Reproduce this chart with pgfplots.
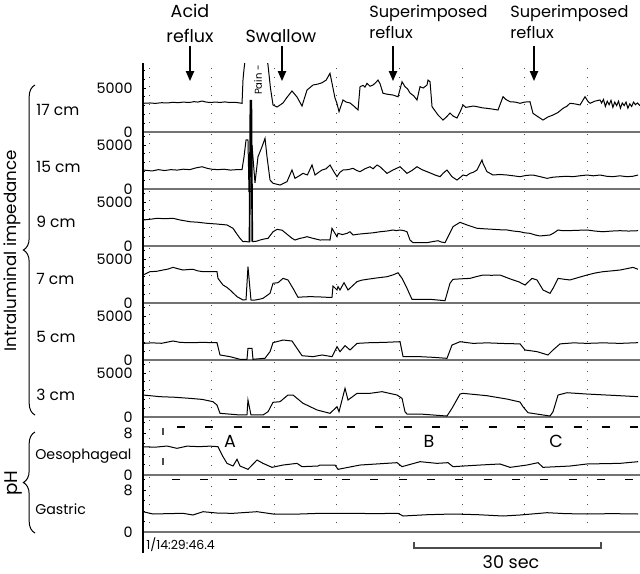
\documentclass[border=0pt]{standalone}
\usepackage{fontspec}
\setmainfont{Poppins}
\usepackage{pgfplots}
\pgfplotsset{compat=1.18}
\usetikzlibrary{arrows.meta,decorations.pathreplacing}

% one strip of the recording; x in seconds, dotted lines every 10 s
\pgfplotsset{
  panel/.style={
    scale only axis, width=298.2pt, anchor=south west,
    xmin=-0.96, xmax=78.43, ymin=0,
    axis x line*=bottom, axis y line*=left,
    x axis line style={draw=black!55, line width=1.2pt, -},
    y axis line style={draw=none},
    xtick={0,10,...,70}, xticklabels={}, xtick style={draw=none},
    xmajorgrids, grid style={black!70, line width=0.6pt, dash pattern=on 0.6pt off 4.8pt},
    ytick={0,5000}, yticklabels={0,5000}, minor ytick={1000,2000,3000,4000,6000,7000},
    tick align=inside, major tick length=2pt, minor tick length=1.4pt,
    ytick style={black, line width=0.5pt},
    yticklabel style={font=\fontsize{8.6}{9}\selectfont, anchor=east, inner sep=0pt, xshift=-6pt},
  },
  ph/.style={panel, ytick={0,8}, yticklabels={0,8}, minor ytick={2,4,6,10}},
  trace/.style={black, line width=0.6pt, mark=none},
}

\begin{document}
\begin{tikzpicture}
\useasboundingbox (0,0) rectangle (384pt,-343.8pt);

% 17 cm
\begin{axis}[panel, at={(85.8pt,-79.2pt)}, height=41.4pt, ymax=7840]
\addplot[trace] coordinates {(-0.96,3260)(0.2,3300)(1.0,3250)(2.0,3330)(3.0,3300)(3.8,3380)(4.6,3330)(5.5,3400)(6.4,3350)(7.2,3450)(7.8,3400)(8.5,3520)(9.0,3420)(9.7,3350)(10.6,3400)(11.4,3360)(12.1,3420)(12.9,3350)(13.7,3380)(14.5,3300)(14.86,3260)(15.02,6000)(15.2,7300)(15.5,9000)(18.69,9000)(19.01,7600)(19.4,5000)(19.81,3070)(20.45,2840)(21.0,3100)(21.41,3300)(22.0,3900)(22.84,4660)(23.64,3980)(24.44,2950)(25.24,4770)(26.20,5340)(27.0,5450)(27.64,5600)(28.3,5900)(28.91,6670)(29.23,5560)(29.5,4600)(29.71,3860)(30.0,3300)(30.35,2310)(30.99,3640)(31.5,3400)(32.11,3300)(32.8,2900)(33.39,2500)(33.71,5150)(34.2,5300)(34.5,5100)(34.82,5530)(35.3,5200)(35.78,5340)(36.2,5600)(36.58,5900)(36.9,5500)(37.38,4400)(38.0,4300)(38.98,4200)(39.78,4000)(40.42,5710)(40.89,5150)(41.3,4900)(41.69,4430)(42.3,4100)(42.81,3640)(43.29,5150)(43.8,5000)(44.41,5340)(44.57,5900)(44.89,5710)(45.21,2880)(46.17,1930)(46.96,1360)(47.5,1700)(48.08,2150)(48.6,1800)(49.20,1590)(49.7,2300)(50.16,3070)(50.6,2800)(51.28,2880)(51.8,2950)(52.40,2880)(53.2,2750)(53.99,2690)(54.9,2600)(55.75,2500)(56.55,4010)(57.0,3700)(57.67,3440)(58.5,3400)(59.27,3260)(60.0,3400)(60.86,3440)(61.34,2120)(62.0,1800)(62.94,1360)(63.7,1700)(64.54,1930)(65.3,2200)(66.13,2690)(66.7,2900)(67.25,3260)(68.0,3200)(68.85,3070)(69.65,4010)(70.1,3500)(70.45,3260)(71.2,3500)(72.04,3640)(72.3,3300)(72.6,3700)(72.9,2900)(73.2,3500)(73.5,3100)(73.8,3600)(74.1,2800)(74.4,3400)(74.7,3000)(75.0,3500)(75.3,2700)(75.6,3300)(75.9,3000)(76.2,3400)(76.5,2700)(76.8,3200)(77.1,2900)(77.4,3400)(77.7,3100)(78.0,3300)(78.43,3000)};
\end{axis}

% 15 cm
\begin{axis}[panel, at={(85.8pt,-113.4pt)}, height=34.2pt, ymax=6477, clip=false]
\addplot[trace] coordinates {(-0.96,2160)(0.5,2050)(1.5,2200)(2.5,2100)(3.5,2200)(4.5,2150)(5.5,2250)(6.5,2200)(7.5,2400)(8.47,2530)(9.3,2350)(10.0,2250)(11.0,2200)(12.0,2250)(13.0,2150)(14.0,2200)(14.86,2200)(15.18,3670)(15.50,5570)(15.81,5570)(15.97,-300)(16.29,-300)(16.45,5000)(16.93,700)(17.41,3670)(18.05,4800)(18.53,5760)(18.85,3670)(19.33,1020)(19.81,650)(20.93,450)(22.04,830)(22.84,2160)(23.32,1210)(24.0,1500)(24.60,1780)(25.3,1600)(26.04,2730)(26.52,1590)(27.1,1900)(27.64,2160)(28.3,2300)(28.91,2730)(29.5,2000)(30.03,1400)(30.5,1900)(30.99,2160)(31.8,2200)(32.59,2350)(33.2,2100)(33.71,1970)(34.5,2300)(35.30,2530)(35.8,2300)(36.42,2730)(36.90,2530)(38.02,1780)(38.98,2160)(40.10,2530)(40.6,2200)(41.21,1780)(42.0,2100)(42.81,2530)(43.6,2200)(44.41,1970)(45.0,1800)(45.69,1590)(46.49,1400)(47.0,1800)(47.60,2160)(48.40,1400)(49.20,1020)(49.7,1300)(50.16,1590)(50.7,1500)(51.28,1780)(51.8,1900)(52.40,2160)(53.19,3300)(53.35,2900)(53.99,1970)(54.95,1590)(56.0,1650)(57.19,1590)(58.2,1500)(59.27,1400)(60.3,1550)(61.34,1590)(62.5,1400)(63.58,1210)(64.6,1350)(65.65,1400)(66.7,1450)(67.73,1400)(68.8,1500)(69.97,1590)(71.0,1500)(72.04,1590)(73.1,1450)(74.12,1400)(75.2,1500)(76.36,1400)(77.3,1450)(78.12,1590)};
\end{axis}

% 9 cm
\begin{axis}[panel, at={(85.8pt,-147.6pt)}, height=34.2pt, ymax=6477, clip=false]
\addplot[trace] coordinates {(-0.96,2950)(0.3,3050)(1.28,3150)(2.5,3100)(3.83,3150)(5.0,2950)(6.55,2760)(7.8,2700)(9.27,2580)(10.8,2500)(12.46,2390)(13.42,2010)(14.0,1400)(14.54,870)(15.02,490)(15.34,520)(16.05,450)};
\addplot[black, line width=1pt] coordinates {(16.05,450)(16.2,16500)(16.35,16500)(16.5,490)};
\addplot[trace] coordinates {(16.5,490)(17.2,550)(17.73,680)(18.4,800)(19.01,870)(19.81,1620)(20.45,1890)(21.25,1800)(22.20,1250)(22.8,900)(23.32,680)(24.12,870)(24.7,950)(25.24,1060)(26.20,870)(27.32,680)(28.2,700)(28.91,680)(29.23,2010)(29.55,1620)(30.03,1060)(30.19,1440)(30.9,1300)(31.63,1440)(32.11,1620)(32.59,1250)(33.5,1350)(34.82,1440)(35.8,1500)(36.90,1620)(38.0,1700)(38.98,1820)(39.5,1750)(40.10,1820)(40.7,1750)(41.21,1620)(41.69,680)(42.17,380)(43.3,380)(44.41,380)(45.3,500)(46.17,600)(46.7,450)(47.28,380)(47.76,1060)(48.56,2200)(49.68,2690)(50.80,2390)(51.6,2200)(52.40,2010)(53.7,1950)(54.95,1900)(56.0,1850)(57.19,1820)(58.2,1700)(59.27,1620)(60.0,1500)(60.86,1440)(61.7,1250)(62.46,1140)(63.3,1200)(64.06,1250)(64.7,1500)(65.34,1820)(66.0,1750)(66.77,1740)(68.3,1780)(69.97,1820)(71.2,1700)(72.52,1620)(73.9,1700)(75.24,1740)(76.6,1700)(78.12,1740)};
\end{axis}

% 7 cm
\begin{axis}[panel, at={(85.8pt,-181.8pt)}, height=34.2pt, ymax=6477]
\addplot[trace] coordinates {(-0.96,3180)(0.16,3560)(1.2,3600)(2.24,3750)(3.0,3850)(3.83,4050)(4.6,3900)(5.43,3750)(6.2,3800)(7.03,3830)(7.8,3650)(8.63,3560)(9.7,3580)(10.86,3560)(11.02,2800)(11.82,2040)(12.4,1800)(12.94,1480)(13.5,1100)(14.06,720)(15.02,340)(15.50,380)(15.81,4120)(16.29,340)(16.93,340)(17.6,420)(18.21,530)(19.33,1100)(19.81,2240)(20.61,2310)(21.41,2800)(22.20,2620)(23.00,1670)(23.80,650)(24.8,700)(25.72,720)(27.0,700)(28.43,650)(29.23,650)(29.39,1930)(30.03,1480)(30.19,1860)(30.51,1480)(31.15,2310)(31.79,1480)(33.23,2430)(34.0,2600)(34.82,2690)(36.4,2850)(38.02,2990)(39.0,3200)(39.78,3440)(40.42,2800)(41.21,1670)(42.01,420)(43.5,420)(44.89,420)(46.0,350)(47.28,260)(48.08,2240)(48.56,2690)(49.9,2750)(51.28,2800)(52.3,3000)(53.35,3180)(54.7,3150)(56.07,3180)(57.1,2900)(58.15,2620)(59.1,2400)(60.06,2040)(61.18,2800)(61.98,2620)(62.94,1480)(64.06,1100)(64.54,1670)(65.34,2800)(66.3,2700)(67.25,2620)(68.6,2900)(69.97,3180)(71.2,3400)(72.52,3560)(73.9,3650)(75.24,3750)(76.3,3900)(77.32,4050)(78.12,3830)};
\end{axis}

% 5 cm
\begin{axis}[panel, at={(85.8pt,-216pt)}, height=34.2pt, ymax=6477]
\addplot[trace] coordinates {(-0.96,1890)(0.5,1950)(2.0,1900)(3.83,2160)(5.0,2000)(6.55,1970)(8.5,2000)(10.86,1970)(11.34,570)(12.94,380)(14.54,80)(15.65,80)(15.81,1330)(16.45,1330)(16.61,80)(18.53,200)(19.33,950)(19.81,1970)(21.41,2270)(22.84,2160)(23.64,1330)(24.44,490)(26.20,380)(27.64,570)(29.23,380)(30.03,1520)(30.51,950)(31.31,1630)(32.11,1140)(33.23,1890)(35.30,1970)(37.5,2000)(40.10,2080)(40.58,380)(43.29,380)(45.5,300)(47.60,190)(48.40,1700)(49.68,2080)(51.76,1890)(54.0,1950)(56.5,1880)(59.27,1830)(60.06,1140)(61.98,950)(63.74,570)(64.54,1140)(65.65,1830)(67.8,1950)(69.97,1890)(72.5,1950)(75.24,1890)(78.12,1970)};
\end{axis}

% 3 cm
\begin{axis}[panel, at={(85.8pt,-250.2pt)}, height=34.2pt, ymax=6477]
\addplot[trace] coordinates {(-0.96,2500)(1.76,2310)(4.0,2250)(6.55,2120)(8.5,2000)(10.22,1740)(10.86,1360)(11.34,420)(14.54,230)(15.65,230)(15.81,1930)(16.29,230)(18.21,230)(19.01,600)(19.81,1670)(20.93,1740)(22.20,2500)(23.00,2500)(24.60,1560)(26.84,800)(28.91,420)(30.03,1170)(30.35,600)(31.31,3260)(31.79,1930)(33.23,2690)(35.30,2690)(37.22,2880)(39.62,2500)(40.42,2120)(40.89,600)(41.21,340)(43.29,340)(47.60,110)(48.40,990)(49.68,2610)(50.16,2690)(53.99,2420)(57.19,2040)(59.27,1700)(59.74,1170)(60.54,490)(64.06,110)(64.54,600)(65.34,2500)(66.77,2760)(69.97,2610)(75.24,2420)(78.12,2310)};
\end{axis}

% pH oesophageal
\begin{axis}[ph, at={(85.8pt,-285pt)}, height=34.8pt, ymax=11.05]
\addplot[trace] coordinates {(-0.96,5.39)(1.0,5.3)(2.88,5.52)(4.47,5.08)(6.07,5.5)(8.0,5.4)(9.74,5.5)(11.02,5.4)(11.82,3.49)(12.46,2.22)(13.42,1.71)(14.06,2.99)(14.54,1.71)(15.81,1.08)(17.25,2.86)(18.21,2.22)(19.65,1.46)(21.41,1.9)(23.64,2.22)(24.44,1.59)(27.0,1.71)(27.32,1.9)(29.71,1.9)(30.19,1.08)(33.71,1.9)(39.62,2.35)(40.42,1.59)(43.29,2.54)(46.01,2.22)(47.76,2.35)(48.56,1.59)(52.88,1.9)(56.07,2.1)(57.67,1.46)(60.38,1.9)(62.14,2.35)(62.94,1.46)(67.25,1.71)(69.97,2.1)(75.24,2.22)(78.12,2.54)};
\addplot[black, line width=1pt, dash pattern=on 4.8pt off 12.2pt] coordinates {(4.47,9.14)(78.43,9.14)};
\addplot[black!70, line width=0.8pt] coordinates {(2.24,8.9)(2.24,7.7)};
\addplot[black!70, line width=0.8pt] coordinates {(2.24,3.3)(2.24,2.0)};
\end{axis}

% pH gastric
\begin{axis}[ph, at={(85.8pt,-319.2pt)}, height=34.2pt, ymax=10.86]
\addplot[trace] coordinates {(-0.96,3.87)(0.64,3.43)(3.0,3.5)(5.43,3.56)(7.03,3.24)(8.63,3.87)(11.0,3.6)(13.42,3.56)(17.25,3.87)(19.81,3.43)(24.12,3.43)(27.32,3.56)(32.59,3.56)(36.0,3.5)(39.78,3.56)(40.58,3.05)(44.5,3.3)(48.56,3.43)(52.5,3.3)(56.55,3.05)(59.27,3.24)(63.58,3.68)(66.5,3.5)(69.97,3.43)(74.0,3.5)(78.12,3.43)};
\addplot[black, line width=1pt, dash pattern=on 4.8pt off 12.2pt] coordinates {(3.67,10.0)(78.43,10.0)};
\end{axis}

\begin{scope}[x=0.6pt,y=0.6pt]
\draw[line width=1.6pt] (143,-63)--(143,-553);
% top annotations
\begin{scope}[font=\fontsize{10.5}{12}\selectfont]
\node[anchor=base] at (190,-17) {Acid};
\node[anchor=base] at (190,-42) {reflux};
\node[anchor=base] at (281,-42) {Swallow};
\end{scope}
\begin{scope}[font=\fontsize{9.7}{12}\selectfont]
\node[anchor=base west, inner sep=0pt] at (369,-17) {Superimposed};
\node[anchor=base west, inner sep=0pt] at (369,-38) {reflux};
\node[anchor=base west, inner sep=0pt] at (510,-17) {Superimposed};
\node[anchor=base west, inner sep=0pt] at (510,-38) {reflux};
\end{scope}
\foreach \xa in {190,282,393,534}
  \draw[line width=0.8pt,-{Triangle[length=6pt,width=5pt]}] (\xa,-46)--(\xa,-81);
\node[rotate=90, font=\fontsize{6}{6}\selectfont, inner sep=0pt] at (258,-80) {Pain -};
% side labels
\begin{scope}[font=\fontsize{9.3}{11}\selectfont]
\node[anchor=base west, inner sep=0pt] at (36,-115) {17 cm};
\node[anchor=base west, inner sep=0pt] at (36,-172) {15 cm};
\node[anchor=base west, inner sep=0pt] at (36,-227) {9 cm};
\node[anchor=base west, inner sep=0pt] at (36,-284) {7 cm};
\node[anchor=base west, inner sep=0pt] at (36,-342) {5 cm};
\node[anchor=base west, inner sep=0pt] at (36,-400) {3 cm};
\end{scope}
\begin{scope}[font=\fontsize{8.5}{11}\selectfont]
\node[anchor=base west, inner sep=0pt] at (35,-459) {Oesophageal};
\node[anchor=base west, inner sep=0pt] at (35,-514) {Gastric};
\end{scope}
\node[rotate=90, font=\fontsize{10}{12}\selectfont] at (12,-251) {Intraluminal impedance};
\node[rotate=90, font=\fontsize{11}{12}\selectfont] at (13,-483) {pH};
\draw[decorate, decoration={brace, amplitude=7pt}, line width=0.6pt] (35,-415)--(35,-85);
\draw[decorate, decoration={brace, amplitude=7pt}, line width=0.6pt] (35,-533)--(35,-432);
% event letters
\begin{scope}[font=\fontsize{10.5}{12}\selectfont]
\node[anchor=base] at (230,-447) {A};
\node[anchor=base] at (429,-447) {B};
\node[anchor=base] at (556,-447) {C};
\end{scope}
\node[anchor=base west, inner sep=0pt, font=\fontsize{7.5}{9}\selectfont] at (146,-549) {1/14:29:46.4};
\draw[line width=0.7pt, black!70] (414,-542)--(414,-548)--(601,-548)--(601,-542);
\node[anchor=base, inner sep=0pt, font=\fontsize{10.5}{12}\selectfont] at (511,-568) {30 sec};
\end{scope}
\end{tikzpicture}
\end{document}
